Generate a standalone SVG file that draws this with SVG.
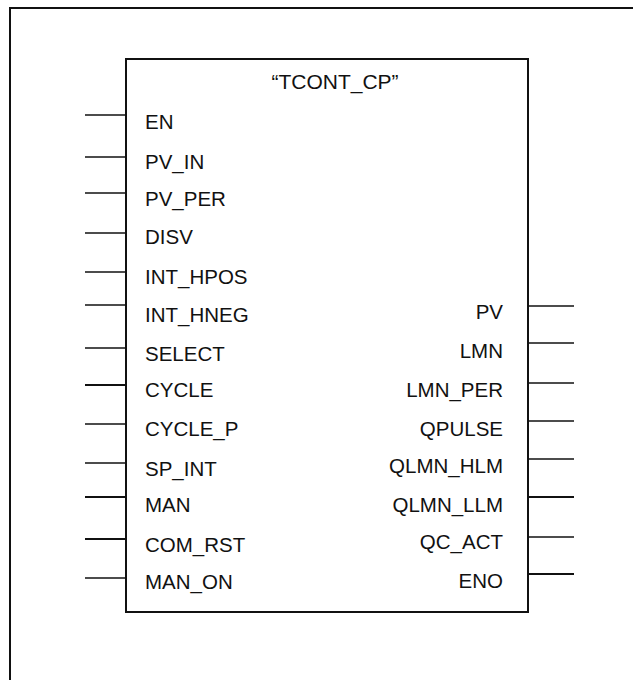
<svg xmlns="http://www.w3.org/2000/svg" width="633" height="680" viewBox="0 0 633 680">
<style>
.frame{fill:none;stroke:#111;stroke-width:2}
.blk{fill:#fff;stroke:#111;stroke-width:2}
.pin{stroke:#111;stroke-width:1.6;fill:none}
.pin.b{stroke-width:2.2}
text{font-family:"Liberation Sans",Arial,sans-serif;font-size:20.5px;fill:#111}
.r{text-anchor:end}
.t{text-anchor:middle;font-size:21px}
</style>
<rect width="633" height="680" fill="#fff"/>
<path class="frame" d="M10,680 V8 H633"/>
<g id="block">
<rect class="blk" x="126" y="59" width="402" height="553"/>
<text class="t" x="335" y="89">“TCONT_CP”</text>
</g>
<g id="connectors">
<line class="pin" x1="85" y1="115" x2="126" y2="115"/>
<line class="pin" x1="85" y1="157" x2="126" y2="157"/>
<line class="pin" x1="85" y1="193" x2="126" y2="193"/>
<line class="pin" x1="85" y1="233" x2="126" y2="233"/>
<line class="pin" x1="85" y1="272" x2="126" y2="272"/>
<line class="pin" x1="85" y1="305" x2="126" y2="305"/>
<line class="pin" x1="85" y1="348" x2="126" y2="348"/>
<line class="pin b" x1="85" y1="385" x2="126" y2="385"/>
<line class="pin" x1="85" y1="424" x2="126" y2="424"/>
<line class="pin" x1="85" y1="463" x2="126" y2="463"/>
<line class="pin b" x1="85" y1="497" x2="126" y2="497"/>
<line class="pin b" x1="85" y1="539" x2="126" y2="539"/>
<line class="pin" x1="85" y1="578" x2="126" y2="578"/>
<line class="pin" x1="528" y1="306" x2="574" y2="306"/>
<line class="pin" x1="528" y1="343" x2="574" y2="343"/>
<line class="pin" x1="528" y1="383" x2="574" y2="383"/>
<line class="pin" x1="528" y1="421" x2="574" y2="421"/>
<line class="pin" x1="528" y1="459" x2="574" y2="459"/>
<line class="pin b" x1="528" y1="497" x2="574" y2="497"/>
<line class="pin" x1="528" y1="537" x2="574" y2="537"/>
<line class="pin b" x1="528" y1="574" x2="574" y2="574"/>
</g>
<g id="inputs">
<text x="145" y="129">EN</text>
<text x="145" y="169">PV_IN</text>
<text x="145" y="206">PV_PER</text>
<text x="145" y="244">DISV</text>
<text x="145" y="284">INT_HPOS</text>
<text x="145" y="322">INT_HNEG</text>
<text x="145" y="361">SELECT</text>
<text x="145" y="397">CYCLE</text>
<text x="145" y="436">CYCLE_P</text>
<text x="145" y="476">SP_INT</text>
<text x="145" y="512">MAN</text>
<text x="145" y="552">COM_RST</text>
<text x="145" y="589">MAN_ON</text>
</g>
<g id="outputs">
<text class="r" x="503" y="319">PV</text>
<text class="r" x="503" y="358">LMN</text>
<text class="r" x="503" y="397">LMN_PER</text>
<text class="r" x="503" y="436">QPULSE</text>
<text class="r" x="503" y="473">QLMN_HLM</text>
<text class="r" x="503" y="512">QLMN_LLM</text>
<text class="r" x="503" y="549">QC_ACT</text>
<text class="r" x="503" y="588">ENO</text>
</g>
</svg>
